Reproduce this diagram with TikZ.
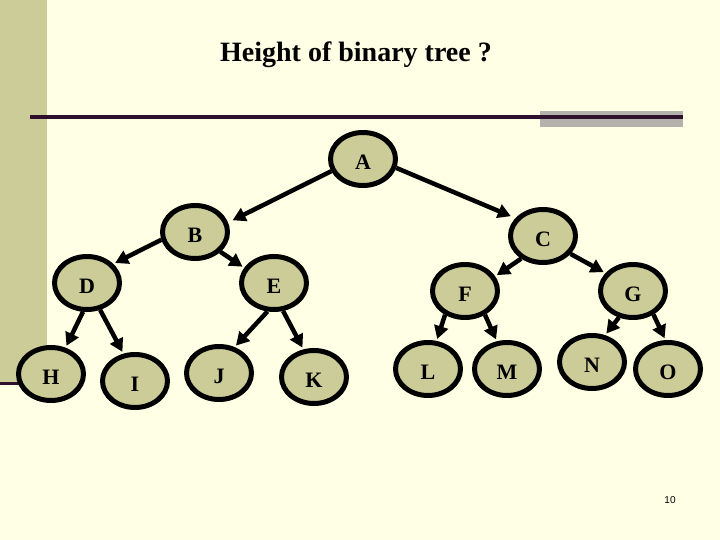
\documentclass[tikz,border=0pt]{standalone}
\usepackage{fontspec}
\setmainfont{Liberation Serif}
\newfontfamily\slidesans{Liberation Sans}
\usetikzlibrary{arrows.meta,shapes.geometric}
\definecolor{slidebg}{HTML}{FFFFE6}
\definecolor{treefill}{HTML}{CCCC99}
\definecolor{rulepurple}{HTML}{2E0F2E}
\definecolor{bargray}{HTML}{B2B1AB}

\begin{document}
\begin{tikzpicture}[
    x=1pt, y=-1pt,
    treenode/.style={ellipse, draw=black, line width=5pt, fill=treefill, minimum width=65pt, minimum height=53pt, inner sep=0pt, font=\fontsize{22}{22}\selectfont\bfseries, text height=21pt, text depth=0pt},
    treeedge/.style={-{Triangle[length=13pt,width=14pt]}, line width=4.5pt, shorten >=2pt},
    titletext/.style={font=\fontsize{28}{28}\selectfont\bfseries, anchor=base},
    pagenum/.style={font=\slidesans\fontsize{10}{10}\selectfont}
]

% Slide background and decoration
\fill[slidebg] (0,0) rectangle (720,540);
\useasboundingbox (0,0) rectangle (720,540);
\fill[treefill] (0,0) rectangle (47,383);
\draw[rulepurple, line width=3pt] (0,383) -- (47,383);
\fill[bargray] (540,111) rectangle (683,127);
\draw[rulepurple, line width=3.5pt] (30,117) -- (683,117);

% Title
\node[titletext] (title) at (356,62) {Height of binary tree ?};

% Level 0 and 1
\node[treenode] (A) at (363,159) {A};
\node[treenode] (B) at (195,232) {B};
\node[treenode] (C) at (543,236) {C};

% Level 2
\node[treenode] (D) at (87,283) {D};
\node[treenode] (E) at (274,283) {E};
\node[treenode] (F) at (465,291) {F};
\node[treenode] (G) at (633,291) {G};

% Level 3 (leaves)
\node[treenode] (H) at (51,374) {H};
\node[treenode] (I) at (135,381) {I};
\node[treenode] (J) at (219,373) {J};
\node[treenode] (K) at (314,377) {K};
\node[treenode] (L) at (428,369) {L};
\node[treenode] (M) at (507,369) {M};
\node[treenode] (N) at (592,362) {N};
\node[treenode] (O) at (668,369) {O};

% Parent to child arrows
\draw[treeedge, shorten >=5pt] (A.201) -- (B.16);
\draw[treeedge, shorten >=5pt] (A.345) -- (C.147);
\draw[treeedge] (B.193) -- (D.36);
\draw[treeedge] (B.322) -- (E.153);
\draw[treeedge] (C.226) -- (F.26);
\draw[treeedge] (C.327) -- (G.147);
\draw[treeedge] (D.262) -- (H.61);
\draw[treeedge] (D.296) -- (I.113);
\draw[treeedge] (E.257) -- (J.59);
\draw[treeedge] (E.288) -- (K.111);
\draw[treeedge] (F.230) -- (L.73);
\draw[treeedge] (F.310) -- (M.110);
\draw[treeedge] (G.242) -- (N.64);
\draw[treeedge] (G.311) -- (O.95);

% Slide number
\node[pagenum] (num) at (670,500) {10};

\end{tikzpicture}
\end{document}
